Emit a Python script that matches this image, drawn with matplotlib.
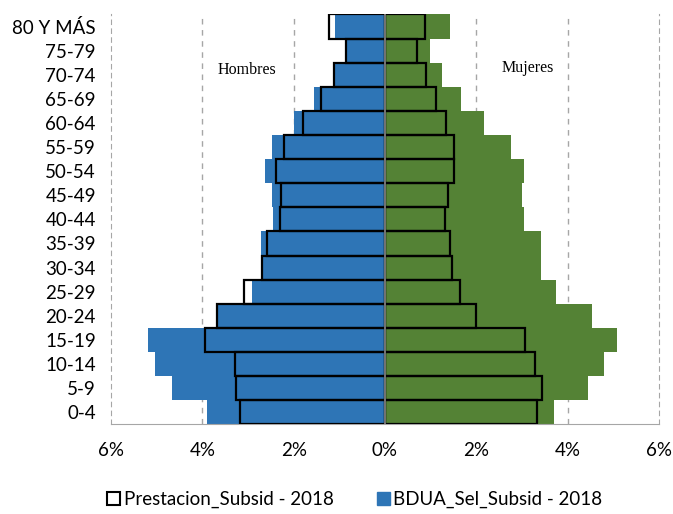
import matplotlib
matplotlib.use("Agg")
import matplotlib.pyplot as plt
from matplotlib.patches import Patch

# age groups, bottom to top
AGES = ["0-4", "5-9", "10-14", "15-19", "20-24", "25-29", "30-34", "35-39",
        "40-44", "45-49", "50-54", "55-59", "60-64", "65-69", "70-74", "75-79",
        "80 Y MÁS"]

# BDUA_Sel_Subsid - 2018 (% of population)
BDUA_MEN = [3.89, 4.67, 5.04, 5.19, 3.66, 2.92, 2.69, 2.71, 2.46, 2.48,
            2.62, 2.47, 2.00, 1.55, 1.10, 0.85, 1.10]
BDUA_WOMEN = [3.70, 4.44, 4.79, 5.08, 4.53, 3.74, 3.41, 3.42, 3.04, 3.00,
              3.05, 2.76, 2.16, 1.66, 1.25, 0.99, 1.42]

# Prestacion_Subsid - 2018 (% of population)
PREST_MEN = [3.17, 3.27, 3.29, 3.95, 3.68, 3.08, 2.69, 2.59, 2.30, 2.27,
             2.38, 2.22, 1.79, 1.41, 1.11, 0.86, 1.22]
PREST_WOMEN = [3.33, 3.45, 3.28, 3.07, 1.99, 1.64, 1.46, 1.43, 1.32, 1.39,
               1.52, 1.52, 1.34, 1.12, 0.89, 0.70, 0.88]

BLUE = "#2E75B6"
GREEN = "#548235"
TICK_FONT = ["Lato", "DejaVu Sans"]
TICK_SIZE = 13.5

fig = plt.figure(figsize=(6.73, 5.14), dpi=100)
ax = fig.add_axes([0.165, 0.1745, 0.814, 0.7975])

y = range(len(AGES))
ax.barh(y, [-v for v in BDUA_MEN], height=1.0, color=BLUE, zorder=2)
ax.barh(y, BDUA_WOMEN, height=1.0, color=GREEN, zorder=2)
ax.barh(y, [-v for v in PREST_MEN], height=1.0, fill=False,
        edgecolor="black", linewidth=1.6, zorder=3)
ax.barh(y, PREST_WOMEN, height=1.0, fill=False,
        edgecolor="black", linewidth=1.6, zorder=3)
ax.axvline(0, color="#7f7f7f", linewidth=1.3, zorder=4)

for xv in (-4, -2, 2, 4):
    ax.axvline(xv, color="#a6a6a6", linewidth=1.0, linestyle=(0, (4, 4)), zorder=1)
for side in ("left", "right"):
    ax.spines[side].set_color("#a6a6a6")
    ax.spines[side].set_linestyle((0, (4, 4)))
ax.spines["top"].set_visible(False)
ax.spines["bottom"].set_color("#a6a6a6")

ax.set_xlim(-6, 6)
ax.set_ylim(-0.5, len(AGES) - 0.5)
ticks = [-6, -4, -2, 0, 2, 4, 6]
ax.set_xticks(ticks)
ax.set_xticklabels([f"{abs(t)}%" for t in ticks])
ax.set_yticks(list(y))
ax.set_yticklabels(AGES)
ax.tick_params(axis="x", length=0, pad=13, labelsize=TICK_SIZE)
ax.tick_params(axis="y", length=0, pad=11, labelsize=TICK_SIZE)
for lab in ax.get_xticklabels() + ax.get_yticklabels():
    lab.set_family(TICK_FONT)

ax.text(-3.03, 14.2, "Hombres", ha="center", va="center",
        family="Liberation Serif", fontsize=11.5)
ax.text(3.13, 14.27, "Mujeres", ha="center", va="center",
        family="Liberation Serif", fontsize=11.5)

handles = [Patch(facecolor="white", edgecolor="black", linewidth=1.5,
                 label="Prestacion_Subsid - 2018"),
           Patch(facecolor=BLUE, edgecolor=BLUE, label="BDUA_Sel_Subsid - 2018")]
fig.legend(handles=handles, loc="center", bbox_to_anchor=(0.527, 0.028), ncol=2,
           frameon=False, handlelength=0.7, handleheight=0.7, handletextpad=0.2,
           columnspacing=2.3, prop={"family": TICK_FONT, "size": TICK_SIZE})

fig.savefig("out.png", dpi=100)
